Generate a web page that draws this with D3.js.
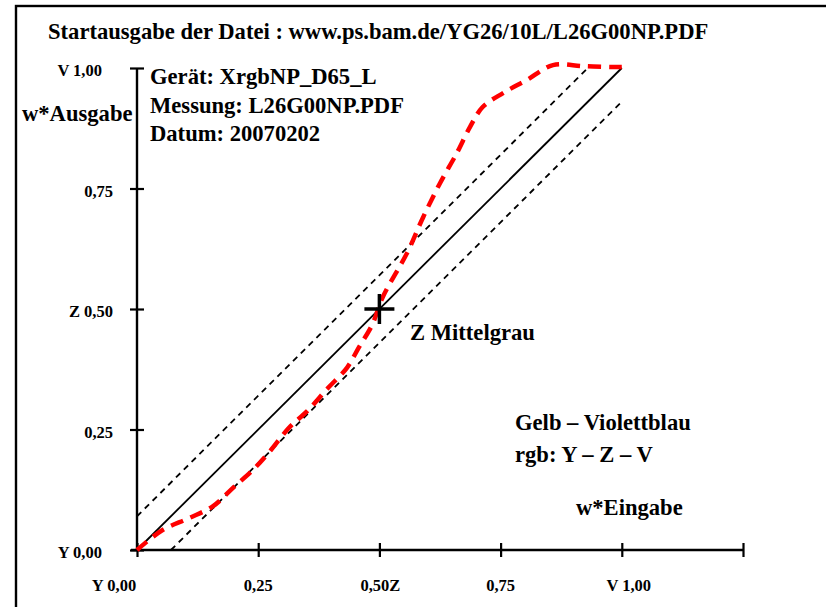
<!DOCTYPE html>
<html><head><meta charset="utf-8">
<script src="https://cdn.jsdelivr.net/npm/d3@7"></script>
<style>body{margin:0;background:#fff}svg{display:block}text{font-family:"Liberation Serif","Times New Roman",serif;font-weight:bold;fill:#000}</style>
</head><body>
<svg id="c" width="826" height="607"></svg>
<script>
const xTickValues = [0, 0.25, 0.5, 0.75, 1.0, 1.25];
const xTickLabels = ["Y 0,00", "0,25", "0,50Z", "0,75", "V 1,00", ""];
const yTickValues = [0, 0.25, 0.5, 0.75, 1.0];
const yTickLabels = ["Y 0,00", "0,25", "Z 0,50", "0,75", "V 1,00"];
const redX = [0, 0.052, 0.107, 0.157, 0.198, 0.239, 0.276, 0.313, 0.351, 0.392, 0.433, 0.458, 0.485, 0.507, 0.557, 0.59, 0.625, 0.66, 0.687, 0.713, 0.755, 0.804, 0.858, 0.92, 0.981, 1.0];
const redY = [0, 0.041, 0.066, 0.091, 0.129, 0.166, 0.207, 0.253, 0.288, 0.334, 0.378, 0.421, 0.467, 0.525, 0.616, 0.69, 0.761, 0.824, 0.878, 0.919, 0.948, 0.975, 1.006, 1.004, 1.002, 1.002];
const tolerance = 0.07;
const infoLines = ["Gerät: XrgbNP_D65_L", "Messung: L26G00NP.PDF", "Datum: 20070202"];
const titleText = "Startausgabe der Datei : www.ps.bam.de/YG26/10L/L26G00NP.PDF";

const svg = d3.select("#c");
const x = d3.scaleLinear().domain([0, 1.25]).range([137, 743]);
const y = d3.scaleLinear().domain([0, 1]).range([550, 68]);
const big = 22.6, small = 16.5;

// frame
svg.append("rect").attr("x", 16).attr("y", 6).attr("width", 830).attr("height", 640)
  .attr("fill", "none").attr("stroke", "#000").attr("stroke-width", 2.4);

svg.append("text").attr("x", 48).attr("y", 39).attr("font-size", big).text(titleText);

// axes
const gx = svg.append("g").attr("transform", `translate(0,${y(0)})`)
  .call(d3.axisBottom(x).tickValues(xTickValues).tickFormat("").tickSize(7).tickSizeOuter(0));
gx.selectAll(".tick line").attr("y1", -7).attr("y2", 7).attr("stroke-width", 2.2);
gx.select(".domain").attr("stroke-width", 2.4).attr("d", `M${x(0)-6},0H${x(1.25)}`);

const gy = svg.append("g").attr("transform", `translate(${x(0)},0)`)
  .call(d3.axisLeft(y).tickValues(yTickValues).tickFormat("").tickSize(7).tickSizeOuter(0));
gy.selectAll(".tick line").attr("x1", -7).attr("x2", 7).attr("stroke-width", 2.2);
gy.select(".domain").attr("stroke-width", 2.4).attr("d", `M0,${y(0)}V${y(1)}`);

// tick labels
svg.selectAll(".xl").data(xTickValues).join("text").attr("class", "xl")
  .attr("font-size", small)
  .attr("x", (d, i) => x(d) + (i === 0 ? -23 : i === 4 ? 7 : i === 2 ? 1 : 0))
  .attr("y", 591).attr("text-anchor", "middle").text((d, i) => xTickLabels[i]);

svg.selectAll(".yl").data(yTickValues).join("text").attr("class", "yl")
  .attr("font-size", small)
  .attr("x", (d, i) => /^[VY]/.test(yTickLabels[i]) ? 102 : 113)
  .attr("y", d => y(d) + 8).attr("text-anchor", "end").text((d, i) => yTickLabels[i]);

// reference lines
const line = d3.line().x(d => x(d[0])).y(d => y(d[1]));
svg.append("path").attr("d", line([[0, 0], [1, 1]])).attr("stroke", "#000").attr("stroke-width", 1.8).attr("fill", "none");
svg.append("path").attr("d", line([[0, tolerance], [1 - tolerance, 1]])).attr("stroke", "#000")
  .attr("stroke-width", 1.8).attr("stroke-dasharray", "6,5").attr("fill", "none");
svg.append("path").attr("d", line([[tolerance, 0], [1, 1 - tolerance]])).attr("stroke", "#000")
  .attr("stroke-width", 1.8).attr("stroke-dasharray", "6,5").attr("fill", "none");

// red measured curve
svg.append("path").attr("d", d3.line().x(d => x(d[0])).y(d => y(d[1])).curve(d3.curveCatmullRom)(redX.map((v, i) => [v, redY[i]])))
  .attr("stroke", "#ff0000").attr("stroke-width", 4.5).attr("stroke-dasharray", "13,8").attr("fill", "none");

// mid-grey cross
svg.append("path").attr("d", `M${x(0.5)-15},${y(0.5)}H${x(0.5)+15}M${x(0.5)},${y(0.5)-15}V${y(0.5)+15}`)
  .attr("stroke", "#000").attr("stroke-width", 3.5);

// texts
svg.append("text").attr("x", 22).attr("y", 121).attr("font-size", big).text("w*Ausgabe");
svg.selectAll(".info").data(infoLines).join("text").attr("class", "info")
  .attr("x", 150).attr("y", (d, i) => 84 + i * 28.5).attr("font-size", big).text(d => d);
svg.append("text").attr("x", 410).attr("y", 340).attr("font-size", big).text("Z Mittelgrau");
svg.append("text").attr("x", 515).attr("y", 430).attr("font-size", big).text("Gelb – Violettblau");
svg.append("text").attr("x", 515).attr("y", 462).attr("font-size", big).text("rgb: Y – Z – V");
svg.append("text").attr("x", 576).attr("y", 515).attr("font-size", big).text("w*Eingabe");
</script>
</body></html>
